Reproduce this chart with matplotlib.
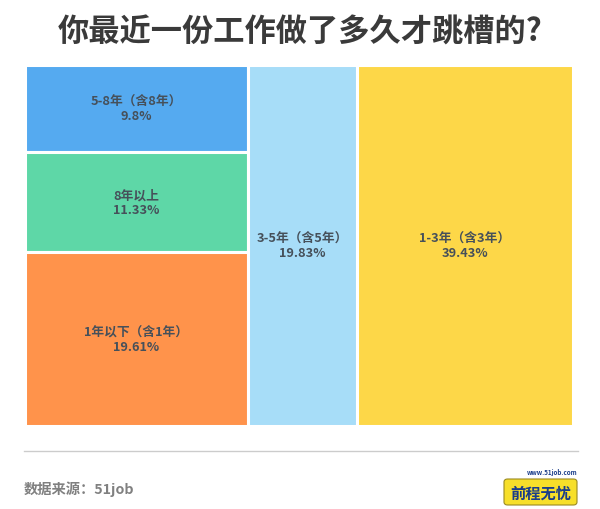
import matplotlib
matplotlib.use('Agg')
import matplotlib.pyplot as plt
from matplotlib.patches import Rectangle, FancyBboxPatch
from matplotlib.lines import Line2D

plt.rcParams['font.family'] = ['Noto Sans CJK SC', 'DejaVu Sans']

# data: each column of the treemap holds one or more blocks
column_labels = [
    ['5-8年（含8年）', '8年以上', '1年以下（含1年）'],
    ['3-5年（含5年）'],
    ['1-3年（含3年）'],
]
column_values = [
    [9.8, 11.33, 19.61],
    [19.83],
    [39.43],
]
column_colors = [
    ['#55aaf0', '#5ed7a7', '#ff934b'],
    ['#a7ddf8'],
    ['#fdd748'],
]
value_text = {9.8: '9.8%', 11.33: '11.33%', 19.61: '19.61%', 19.83: '19.83%', 39.43: '39.43%'}

title = '你最近一份工作做了多久才跳槽的?'
source = '数据来源：51job'

W, H = 600, 510
fig = plt.figure(figsize=(W / 100, H / 100), dpi=100)
fig.patch.set_facecolor('white')

ax = fig.add_axes([24.5 / W, (H - 427) / H, (573 - 24.5) / W, (427 - 66) / H])
total = sum(sum(c) for c in column_values)
ax.set_xlim(0, total)
ax.set_ylim(0, 1)
ax.axis('off')

x0 = 0
for labels, vals, cols in zip(column_labels, column_values, column_colors):
    width = sum(vals)
    top = 1.0
    for lab, v, c in zip(labels, vals, cols):
        h = v / width
        ax.add_patch(Rectangle((x0, top - h), width, h, facecolor=c,
                               edgecolor='white', linewidth=2.2))
        ax.text(x0 + width / 2, top - h / 2, lab + '\n' + value_text[v],
                ha='center', va='center', fontsize=9.2, fontweight='bold',
                color='#46505a', linespacing=1.2)
        top -= h
    x0 += width

fig.text(0.5, (H - 33) / H, title, ha='center', va='center',
         fontsize=22.5, fontweight='bold', color='#3a3a3a')

fig.add_artist(Line2D([24 / W, 578 / W], [(H - 452) / H] * 2,
                      color='#cccccc', linewidth=1))

fig.text(24 / W, (H - 489) / H, source, ha='left', va='center',
         fontsize=10.3, fontweight='bold', color='#808080')

# logo
logo = FancyBboxPatch((504 / W, (H - 506) / H), 73 / W, 26 / H,
                      boxstyle='round,pad=0,rounding_size=0.006',
                      transform=fig.transFigure, facecolor='#f7df2a',
                      edgecolor='#9a8a20', linewidth=0.8)
fig.add_artist(logo)
fig.text(577 / W, (H - 473) / H, 'www.51job.com', ha='right', va='center',
         fontsize=4.5, fontweight='bold', color='#1a3d8a')
fig.text(541 / W, (H - 494) / H, '前程无忧', ha='center', va='center',
         fontsize=11, fontweight='bold', color='#1a3d8a', style='italic')

fig.savefig('out.png', dpi=100, facecolor='white')
